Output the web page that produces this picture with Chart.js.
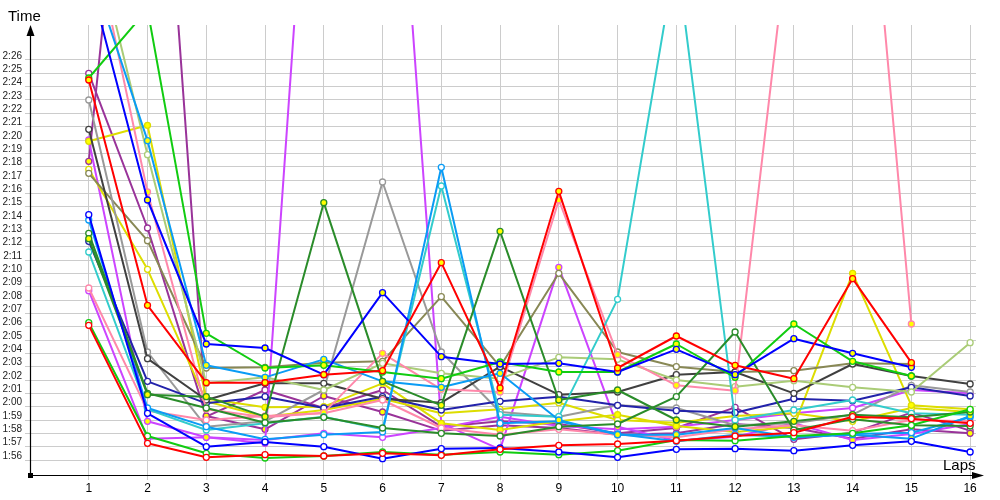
<!DOCTYPE html>
<html><head><meta charset="utf-8">
<script src="https://cdn.jsdelivr.net/npm/chart.js@4/dist/chart.umd.min.js"></script>
<style>html,body{margin:0;padding:0;background:#fff}#wrap{width:1000px;height:500px}</style>
</head><body><div id="wrap"><canvas id="c" width="1000" height="500"></canvas></div>
<script>
// Categories (laps) and y tick values (seconds)
const laps = [1,2,3,4,5,6,7,8,9,10,11,12,13,14,15,16];
const yTicks = [116,117,118,119,120,121,122,123,124,125,126,127,128,129,130,131,132,133,134,135,136,137,138,139,140,141,142,143,144,145,146];

// Lap times in seconds
const redA    = [144.5,127.6,121.8,121.8,122.4,122.7,130.8,121.4,136.15,122.9,125.3,123.1,122.1,129.6,123.3,null];
const redB    = [126.1,117.25,116.2,116.4,116.3,116.5,116.35,116.8,117.1,117.2,117.45,117.8,118.05,119.25,119.1,118.75];
const blueA   = [152.3,135.5,124.7,124.4,122.4,128.55,123.75,123.2,123.25,122.6,124.3,122.4,125.1,124.0,122.95,null];
const blueB   = [134.4,119.5,117.0,117.35,117.0,116.1,116.85,116.9,116.6,116.2,116.8,116.85,116.7,117.1,117.4,116.6];
const limeA   = [144.65,149.8,125.5,122.9,123.1,122.6,122.1,123.35,122.6,122.6,124.7,122.2,126.2,123.4,122.3,null];
const limeB   = [126.3,117.8,116.5,116.15,116.3,116.6,116.4,116.6,116.4,116.7,117.5,117.45,117.8,118.0,118.6,119.8];
const dgreenA = [132.6,120.9,120.75,119.25,135.3,121.9,120.1,133.15,120.5,121.25,119.0,118.5,118.9,119.4,119.2,119.6];
const dgreenB = [133.0,121.0,119.9,118.8,119.2,118.4,118.0,117.8,118.5,118.7,120.75,125.6,118.25,119.05,118.6,118.55];
const skyA    = [153.2,139.95,123.1,122.2,123.55,121.9,121.45,122.5,119.0,117.9,117.9,118.4,117.7,117.9,117.6,119.3];
const skyB    = [134.0,119.9,118.5,117.55,117.9,118.1,137.95,118.75,118.9,117.95,117.4,117.9,117.75,117.95,118.05,119.2];
const cyan    = [131.6,119.8,118.25,118.75,119.25,118.3,136.55,119.4,119.25,128.05,154.0,119.0,119.75,120.5,119.5,119.4];
const pinkA   = [156.9,136.1,119.8,119.2,119.55,124.0,121.3,121.1,135.5,123.9,121.6,121.2,158.9,175.3,126.2,null];
const pinkB   = [128.9,119.7,119.0,119.3,119.5,120.5,118.4,117.9,118.3,117.9,117.7,118.3,118.6,118.2,119.0,118.9];
const lgreen  = [157.0,138.9,121.75,122.2,121.25,123.25,122.5,122.1,123.7,123.55,122.0,121.5,121.95,121.45,121.1,124.8];
const black   = [140.8,123.6,120.5,121.75,121.75,120.6,120.3,123.0,120.9,121.1,122.4,122.6,121.0,123.2,122.3,121.7];
const navy    = [132.4,121.9,120.25,120.75,119.9,120.75,119.75,120.4,120.75,120.1,119.7,119.55,120.6,120.45,121.45,120.8];
const gray    = [143.0,124.1,118.5,118.9,121.25,136.85,124.1,119.6,119.25,120.1,119.9,118.6,118.75,119.4,121.6,121.1];
const olive   = [137.5,132.45,122.9,122.95,123.3,123.4,128.25,123.0,130.0,124.1,123.0,122.6,122.7,123.25,123.2,null];
const yellowA = [139.9,141.1,120.6,119.95,120.0,121.75,118.75,118.25,118.9,119.4,118.55,118.1,118.5,130.0,120.1,119.8];
const yellowB = [137.8,130.3,120.4,119.25,119.75,120.6,119.5,119.8,120.3,119.0,118.8,119.3,119.5,118.9,119.9,119.6];
const violetA = [140.0,118.9,117.7,117.25,180.5,179.6,118.75,116.8,130.45,118.5,117.45,117.75,118.75,117.5,117.95,118.7];
const violetB = [128.7,117.6,117.7,117.5,118.0,117.7,118.4,119.25,118.55,118.3,118.5,119.0,119.5,119.9,121.25,121.0];
const purpleA = [138.4,181.0,119.3,118.3,120.8,119.6,118.2,118.6,118.4,117.9,118.0,118.7,118.4,117.6,118.3,118.0];
const purpleB = [145.0,133.4,119.25,121.25,119.9,121.25,118.5,118.9,118.7,118.0,118.4,119.95,117.55,118.05,119.55,118.2];

const Y = '#ffff00', W = '#ffffff';
const series = [
  [redA,'#ff0000',Y],[redB,'#ff0000',W],
  [blueA,'#0000ff',Y],[blueB,'#0000ff',W],
  [limeA,'#11cc11',Y],[limeB,'#11cc11',W],
  [dgreenA,'#2a8c2a',Y],[dgreenB,'#2a8c2a',W],
  [skyA,'#0a9cf5',Y],[skyB,'#0a9cf5',W],
  [cyan,'#33cccc',W],
  [pinkA,'#ff88aa',Y],[pinkB,'#ff88aa',W],
  [lgreen,'#aacc77',W],[black,'#404040',W],[navy,'#2222aa',W],
  [gray,'#999999',W],[olive,'#888855',W],
  [yellowA,'#dddd00',Y],[yellowB,'#dddd00',W],
  [violetA,'#cc44ff',Y],[violetB,'#cc44ff',W],
  [purpleA,'#993399',Y],[purpleB,'#993399',W]
];

const datasets = series.map(([vals,col,fill]) => ({
  data: laps.map((l,i) => ({x:l, y:vals[i]})),
  borderColor: col, backgroundColor: fill,
  pointBorderColor: col, pointBackgroundColor: fill,
  borderWidth: 2, pointRadius: 3, pointBorderWidth: 1.3, pointHoverRadius: 3,
  tension: 0, spanGaps: false
}));

function fmt(v){ const m = Math.floor(v/60), s = Math.round(v - m*60); return m + ':' + (s<10?'0':'') + s; }

const axesPlugin = {
  id: 'axes',
  afterDraw(chart){
    const ctx = chart.ctx, a = chart.chartArea;
    const x0 = Math.round(a.left) + 0.5, y0 = Math.round(a.bottom) + 0.5;
    ctx.save();
    ctx.strokeStyle = '#000'; ctx.fillStyle = '#000'; ctx.lineWidth = 1.2;
    ctx.beginPath(); ctx.moveTo(x0, y0); ctx.lineTo(x0, a.top + 8); ctx.stroke();
    ctx.beginPath(); ctx.moveTo(x0, a.top); ctx.lineTo(x0 - 4, a.top + 11); ctx.lineTo(x0 + 4, a.top + 11); ctx.closePath(); ctx.fill();
    ctx.beginPath(); ctx.moveTo(x0, y0); ctx.lineTo(a.right + 2, y0); ctx.stroke();
    ctx.beginPath(); ctx.moveTo(a.right + 8, y0); ctx.lineTo(a.right - 4, y0 - 3.5); ctx.lineTo(a.right - 4, y0 + 3.5); ctx.closePath(); ctx.fill();
    ctx.fillRect(x0 - 2.5, y0 - 2.5, 5, 5);
    ctx.font = '15px "Liberation Sans", Arial, sans-serif';
    ctx.textBaseline = 'alphabetic'; ctx.textAlign = 'left';
    ctx.fillText('Time', 8, 21);
    ctx.fillText('Laps', 943, 470);
    ctx.restore();
  }
};

new Chart(document.getElementById('c'), {
  type: 'line',
  data: { datasets },
  options: {
    responsive: false, animation: false, devicePixelRatio: 1,
    layout: { padding: { top: 25, right: 24, left: 0, bottom: 0 } },
    plugins: { legend: { display: false }, tooltip: { enabled: false } },
    elements: { line: { borderCapStyle: 'round', borderJoinStyle: 'round' } },
    scales: {
      x: {
        type: 'linear', min: 0, max: 16.1,
        afterBuildTicks: s => { s.ticks = laps.map(v => ({value: v})); },
        afterFit: s => { s.height = 25; },
        border: { display: false },
        grid: { color: '#cccccc', lineWidth: 1, drawTicks: true, tickLength: 5, tickColor: '#cccccc' },
        ticks: { color: '#000', font: { family: '"Liberation Sans", Arial, sans-serif', size: 12 }, padding: 1, autoSkip: false, maxRotation: 0,
                 callback: v => String(v) }
      },
      y: {
        type: 'linear', min: 114.875, max: 148.625,
        afterBuildTicks: s => { s.ticks = yTicks.map(v => ({value: v})); },
        afterFit: s => { s.width = 30; },
        border: { display: false },
        grid: { color: '#cccccc', lineWidth: 1, drawTicks: true, tickLength: 5, tickColor: '#cccccc' },
        ticks: { color: '#222', font: { family: '"Liberation Sans", Arial, sans-serif', size: 10 }, padding: 3, autoSkip: false,
                 labelOffset: -4, callback: v => fmt(v) }
      }
    }
  },
  plugins: [axesPlugin]
});
</script></body></html>
